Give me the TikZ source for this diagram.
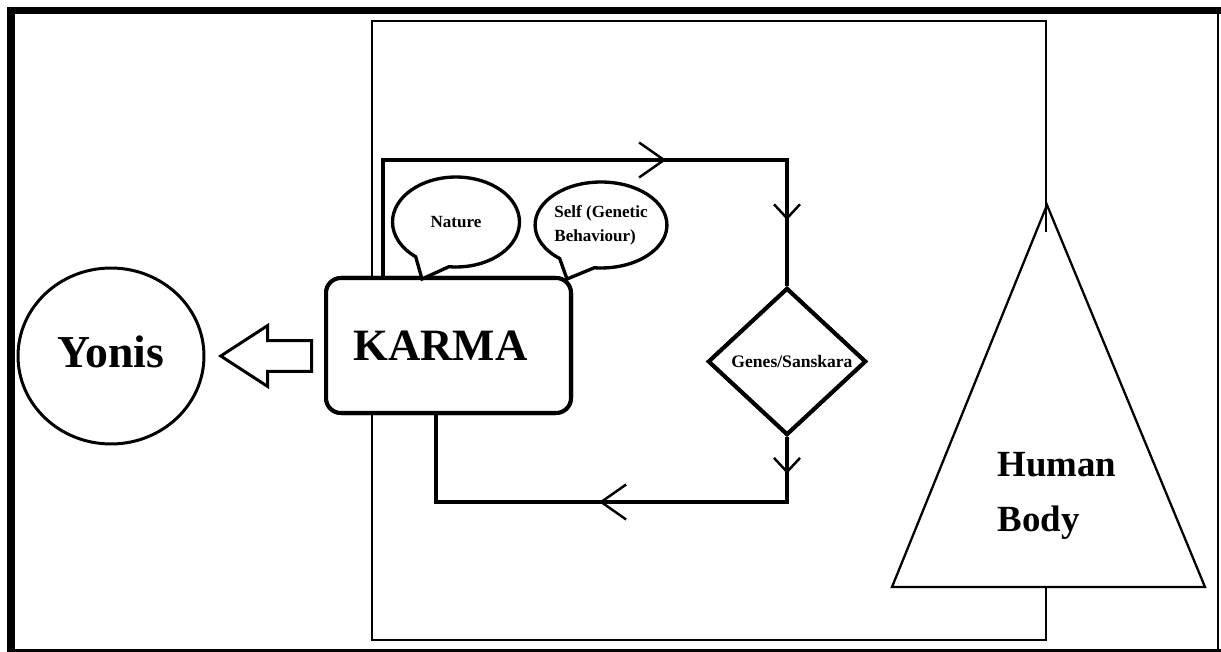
\documentclass[tikz,border=0pt]{standalone}
\usepackage{fontspec}
\setmainfont{Liberation Serif}
\usetikzlibrary{
  arrows.meta,
  positioning,
  shapes.geometric,
  shapes.callouts,
  shapes.arrows,
  decorations.markings
}

\begin{document}
\begin{tikzpicture}[
  x=0.02cm, y=-0.02cm,
  bigbarb/.tip={Straight Barb[length=5mm, width=7mm, line width=1.4pt]},
  smallbarb/.tip={Straight Barb[length=2.8mm, width=5.2mm, line width=1.4pt]},
  frameline/.style={line width=0.15cm},
  thinline/.style={line width=1.1pt},
  loopline/.style={line width=2.5pt},
  yonisnode/.style={
    ellipse, draw, line width=1.7pt,
    minimum width=3.72cm, minimum height=3.52cm,
    text depth=0.18cm,
    font=\fontsize{26}{30}\selectfont\bfseries
  },
  karmanode/.style={
    rectangle, rounded corners=0.3cm, draw, fill=white, line width=2.3pt,
    minimum width=4.9cm, minimum height=2.7cm,
    font=\fontsize{25.5}{30}\selectfont\bfseries
  },
  bubble/.style={
    ellipse callout, draw, fill=white, line width=1.9pt,
    callout pointer arc=33, inner sep=0pt, align=left,
    font=\fontsize{9.7}{13.6}\selectfont\bfseries
  },
  genesnode/.style={
    diamond, draw, fill=white, line width=2.3pt,
    minimum width=3.16cm, minimum height=2.94cm, inner sep=0pt
  },
  toarrow/.style={
    single arrow, draw, line width=1.7pt, shape border rotate=180,
    minimum height=1.82cm, minimum width=1.16cm, inner xsep=0pt, inner ysep=0.28cm,
    single arrow head extend=0.3cm, single arrow tip angle=66
  },
  bodyline/.style={line width=1.3pt, fill=white},
  bodytext/.style={align=left, inner sep=0pt, font=\fontsize{21}{31}\selectfont\bfseries}
]
\useasboundingbox (0,0) rectangle (1221,652);

% FRAME
\draw[frameline] (1225,10.5) -- (11,10.5) -- (11,653) -- (1225,653);
\draw[line width=0.04cm] (1218,10) -- (1218,652);
\draw[thinline] (372,21) rectangle (1046,640);

% LOOP corners
\coordinate (looptl) at (383,160);
\coordinate (looptr) at (787,160);
\coordinate (loopbr) at (787,502);
\coordinate (loopbl) at (436,502);
\coordinate (naturetip) at (422,279);
\coordinate (selftip) at (567,279);

\node[karmanode] (karma) at (448.5,345.5) {KARMA\hspace*{0.32cm}};
\node[genesnode] (genes) at (787,361.5) {};

\draw[loopline, postaction={decorate}, decoration={markings,
    mark=at position 0.618 with {\arrow{bigbarb}},
    mark=at position 0.898 with {\arrow{smallbarb}}}]
  (karma.north -| looptl) -- (looptl) -- (looptr) -- (genes.north);
\draw[loopline, postaction={decorate}, decoration={markings,
    mark=at position 0.073 with {\arrow{smallbarb}},
    mark=at position 0.503 with {\arrow{bigbarb}}}]
  (genes.south) -- (loopbr) -- (loopbl) -- (karma.south -| loopbl);

% redraw box and diamond over the loop ends
\node[karmanode] at (karma) {KARMA\hspace*{0.32cm}};
\node[genesnode] at (genes) {};
\node[font=\fontsize{10}{12}\selectfont\bfseries] (genestext) at ([xshift=0.1cm]genes.center) {Genes/Sanskara};

% bubbles
\node[bubble, minimum width=2.54cm, minimum height=1.8cm,
  callout absolute pointer=(naturetip)] (nature) at (456,222) {Nature};
\node[bubble, minimum width=2.56cm, minimum height=1.72cm,
  callout absolute pointer=(selftip)] (self) at (601,225) {Self (Genetic\\Behaviour)};

% YONIS
\node[yonisnode] (yonis) at (111,356) {Yonis};
\node[toarrow, anchor=tip] (toyonis) at (218,356) {};

% HUMAN BODY
\coordinate (apex) at (1047,205);
\coordinate (baser) at (1205,587);
\coordinate (basel) at (892,587);
\draw[bodyline] (apex) -- (baser) -- (basel) -- cycle;
\draw[thinline] (1046,205) -- (1046,232);
\node[bodytext] (body) at (1057,496) {Human\\Body};

\end{tikzpicture}
\end{document}
